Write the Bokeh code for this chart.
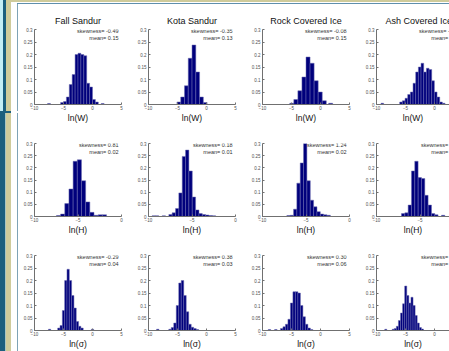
from bokeh.plotting import figure
from bokeh.layouts import row, column
from bokeh.models import Range1d, FixedTicker, Label, Spacer, NumeralTickFormatter
from bokeh.embed import file_html
from bokeh.resources import INLINE

# ---------------- data ----------------
sites = ["Fall Sandur", "Kota Sandur", "Rock Covered Ice", "Ash Covered Ice"]
row_vars = ["ln(W)", "ln(H)", "ln(σ)"]
row_xlims = [(-10, 5), (-10, 0), (-10, 5)]
row_xticks = [[-10, -5, 0, 5], [-10, -5, 0], [-10, -5, 0, 5]]
y_ticks = [0, 0.05, 0.1, 0.15, 0.2, 0.25, 0.3]

# relative-frequency histograms: bin centres, heights, bin width
fall_W_x = [-7.5, -5.25, -4.75, -4.25, -3.75, -3.25, -2.75, -2.25, -1.75, -1.25, -0.75, -0.25, 0.25, 0.75, 1.75]
fall_W_y = [0.004, 0.008, 0.012, 0.03, 0.08, 0.12, 0.2, 0.205, 0.2, 0.195, 0.085, 0.07, 0.02, 0.01, 0.004]
fall_W_w = 0.5
kota_W_x = [-4.77, -4.12, -3.47, -2.82, -2.17, -1.52, -0.87, -0.22]
kota_W_y = [0.01, 0.03, 0.075, 0.185, 0.238, 0.13, 0.03, 0.008]
kota_W_w = 0.65
rock_W_x = [-4.95, -4.25, -3.55, -2.85, -2.15, -1.45, -0.75, -0.05, 0.65, 1.75]
rock_W_y = [0.005, 0.02, 0.055, 0.11, 0.19, 0.165, 0.095, 0.05, 0.015, 0.005]
rock_W_w = 0.7
ash_W_x = [-9.0, -5.77, -5.31, -4.85, -4.39, -3.93, -3.47, -3.01, -2.55, -2.09, -1.63, -1.17, -0.71, -0.25, 0.21, 0.67, 1.13, 1.59]
ash_W_y = [0.005, 0.01, 0.015, 0.025, 0.04, 0.05, 0.085, 0.13, 0.15, 0.165, 0.13, 0.145, 0.14, 0.095, 0.05, 0.03, 0.01, 0.005]
ash_W_w = 0.46

fall_H_x = [-7.24, -6.76, -6.28, -5.8, -5.32, -4.84, -4.36, -3.88, -3.4, -2.92, -2.44, -1.96]
fall_H_y = [0.004, 0.01, 0.053, 0.113, 0.227, 0.233, 0.147, 0.06, 0.017, 0.005, 0.007, 0.007]
fall_H_w = 0.48
kota_H_x = [-9.4, -9.01, -8.24, -7.47, -7.09, -6.7, -6.32, -5.93, -5.55, -5.16, -4.78, -4.39, -4.01, -3.62, -3.24, -2.85, -2.47]
kota_H_y = [0.003, 0.003, 0.003, 0.008, 0.015, 0.033, 0.097, 0.247, 0.273, 0.187, 0.08, 0.027, 0.012, 0.008, 0.006, 0.004, 0.003]
kota_H_w = 0.385
rock_H_x = [-7.01, -6.63, -6.24, -5.86, -5.47, -5.09, -4.7, -4.32, -3.93, -3.55, -3.16, -2.78, -2.39]
rock_H_y = [0.004, 0.005, 0.03, 0.137, 0.22, 0.3, 0.147, 0.067, 0.04, 0.02, 0.01, 0.007, 0.005]
rock_H_w = 0.385
ash_H_x = [-6.94, -6.55, -6.17, -5.79, -5.41, -5.02, -4.64, -4.26, -3.87, -3.49, -3.11, -2.34]
ash_H_y = [0.012, 0.015, 0.047, 0.187, 0.227, 0.16, 0.156, 0.087, 0.047, 0.012, 0.007, 0.005]
ash_H_w = 0.383

fall_S_x = [-7.4, -5.8, -5.4, -5.0, -4.6, -4.2, -3.8, -3.4, -3.0, -2.6, -2.2, -1.8, 0.0]
fall_S_y = [0.005, 0.01, 0.02, 0.08, 0.2, 0.245, 0.2, 0.14, 0.09, 0.036, 0.017, 0.01, 0.005]
fall_S_w = 0.4
kota_S_x = [-8.4, -6.29, -5.86, -5.43, -5.0, -4.57, -4.14, -3.71, -3.28, -2.85, -2.42, -1.99, -1.56]
kota_S_y = [0.005, 0.005, 0.012, 0.03, 0.1, 0.19, 0.2, 0.14, 0.075, 0.025, 0.013, 0.008, 0.004]
kota_S_w = 0.43
rock_S_x = [-8.8, -7.7, -6.69, -6.26, -5.83, -5.4, -4.97, -4.54, -4.11, -3.68, -3.25, -2.82, -2.39, -1.96, -1.53]
rock_S_y = [0.004, 0.004, 0.008, 0.015, 0.025, 0.045, 0.11, 0.155, 0.155, 0.15, 0.1, 0.055, 0.025, 0.01, 0.004]
rock_S_w = 0.43
ash_S_x = [-8.4, -7.12, -6.76, -6.4, -6.04, -5.68, -5.32, -4.96, -4.6, -4.24, -3.88, -3.52, -3.16, -2.8, -2.44, -2.08]
ash_S_y = [0.005, 0.005, 0.008, 0.017, 0.04, 0.07, 0.107, 0.178, 0.14, 0.11, 0.133, 0.1, 0.06, 0.03, 0.012, 0.006]
ash_S_w = 0.36

hist = [
    [(fall_W_x, fall_W_y, fall_W_w), (kota_W_x, kota_W_y, kota_W_w), (rock_W_x, rock_W_y, rock_W_w), (ash_W_x, ash_W_y, ash_W_w)],
    [(fall_H_x, fall_H_y, fall_H_w), (kota_H_x, kota_H_y, kota_H_w), (rock_H_x, rock_H_y, rock_H_w), (ash_H_x, ash_H_y, ash_H_w)],
    [(fall_S_x, fall_S_y, fall_S_w), (kota_S_x, kota_S_y, kota_S_w), (rock_S_x, rock_S_y, rock_S_w), (ash_S_x, ash_S_y, ash_S_w)],
]

skewness = [["-0.49", "-0.35", "-0.08", "-0.14"],
            ["0.81", "0.18", "1.24", "0.52"],
            ["-0.29", "0.38", "0.30", "0.12"]]
means = [["0.15", "0.13", "0.15", "0.17"],
         ["0.02", "0.01", "0.02", "0.02"],
         ["0.04", "0.03", "0.06", "0.05"]]

# ---------------- layout ----------------
FONT = "Liberation Sans"
FRAME_W = 87
col_widths = [114, 114, 114, 89]
col_right = [11, 11, 11, 0]
row_heights = [120, 112, 114]
row_top = [24, 18, 18]
row_bottom = [19, 18, 18]
BAR_FILL = "#00007c"
BAR_LINE = "#6c6cb0"
AXIS_COL = "#707070"

rows = []
for r in range(3):
    figs = []
    x0, x1full = row_xlims[r]
    span = x1full - x0
    for c in range(4):
        fw = col_widths[c] - 16 - col_right[c]
        x1 = x0 + fw * span / FRAME_W
        p = figure(width=col_widths[c], height=row_heights[r],
                   x_range=Range1d(x0, x1), y_range=Range1d(0, 0.3),
                   output_backend="svg", toolbar_location=None,
                   min_border_left=16, min_border_right=col_right[c],
                   min_border_top=row_top[r], min_border_bottom=row_bottom[r])
        p.outline_line_color = None
        p.xgrid.visible = False
        p.ygrid.visible = False
        p.background_fill_color = "white"
        p.border_fill_color = "white"

        xs, ys, w = hist[r][c]
        p.quad(left=[v - w / 2 for v in xs], right=[v + w / 2 for v in xs],
               top=ys, bottom=[0] * len(ys),
               fill_color=BAR_FILL, line_color=BAR_LINE, line_width=0.5)

        p.xaxis.ticker = FixedTicker(ticks=row_xticks[r])
        p.yaxis.ticker = FixedTicker(ticks=y_ticks)
        p.yaxis.formatter = NumeralTickFormatter(format="0.[00]")
        for ax in (p.xaxis[0], p.yaxis[0]):
            ax.axis_line_color = AXIS_COL
            ax.major_tick_line_color = AXIS_COL
            ax.major_tick_in = 2
            ax.major_tick_out = 0
            ax.minor_tick_line_color = None
            ax.major_label_text_font = FONT
            ax.major_label_text_font_size = "4.5px"
            ax.major_label_text_color = "#505050"
        p.xaxis.major_label_standoff = 1
        p.yaxis.major_label_standoff = 2
        p.xaxis.axis_label = row_vars[r]
        p.xaxis.axis_label_text_font = FONT
        p.xaxis.axis_label_text_font_size = "8.5px"
        p.xaxis.axis_label_text_font_style = "normal"
        p.xaxis.axis_label_text_color = "#111111"
        p.xaxis.axis_label_standoff = 0

        if r == 0:
            p.title.text = sites[c]
            p.title.text_font = FONT
            p.title.text_font_size = "9px"
            p.title.text_font_style = "normal"
            p.title.text_color = "#111111"
            p.title.standoff = 8
            if c == 3:
                p.title.align = "left"
                p.title.offset = 9
            else:
                p.title.align = "center"

        xr = x1full - 3 * span / FRAME_W
        fh = row_heights[r] - row_top[r] - row_bottom[r]
        for txt, dy in ((f"skewness= {skewness[r][c]}", 1.5), (f"mean= {means[r][c]}", 9.0)):
            p.add_layout(Label(x=xr, y=0.3 - dy * 0.3 / fh, text=txt,
                               text_align="right", text_baseline="middle",
                               text_font=FONT, text_font_size="5.5px",
                               text_color="#333333"))
        figs.append(p)
    rows.append(row(*figs))

right = column(Spacer(width=431, height=5), *rows)
left = Spacer(width=18, height=351)

TEAL = "#1c5f7e"
KHAKI = "#cfcb9b"
bg = ", ".join([
    f"linear-gradient({TEAL},{TEAL}) 0px 111px / 11px 2px no-repeat",
    f"linear-gradient({KHAKI},{KHAKI}) 11px 0px / 438px 2px no-repeat",
    "linear-gradient(#ffffff,#ffffff) 11px 2px / 438px 1px no-repeat",
    "linear-gradient(#5f8fac,#5f8fac) 17px 3px / 432px 1px no-repeat",
    f"linear-gradient(to right, #c4eef6 0px 3px, {TEAL} 3px 6px, {KHAKI} 6px 11px, #ffffff 11px 17px, #7ea3b6 17px 18px) 0px 0px / 18px 111px no-repeat",
    f"linear-gradient(to right, {TEAL} 0px 5px, #a9c6c3 5px 6px, {KHAKI} 6px 11px, #ffffff 11px 17px, #7ea3b6 17px 18px) 0px 113px / 18px 238px no-repeat",
    "#ffffff",
])
root = row(left, right, styles={"background": bg})

open("out.html", "w").write(file_html(root, INLINE))
